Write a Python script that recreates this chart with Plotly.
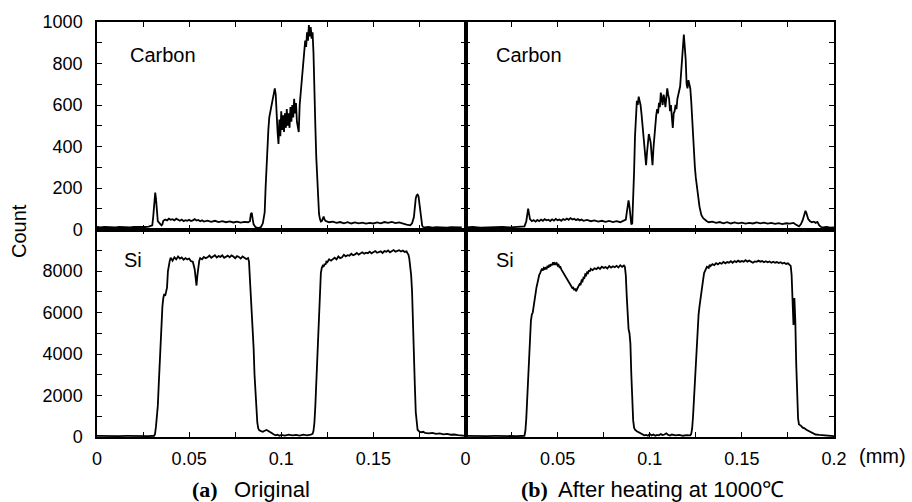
import plotly.graph_objects as go

# ---------------- data ----------------
carbon_a_x = [0.000, 0.002, 0.004, 0.006, 0.008, 0.010, 0.012, 0.014, 0.016, 0.018, 0.020, 0.022, 0.024, 0.026, 0.028,
              0.030, 0.0305, 0.031, 0.0316, 0.032, 0.0325, 0.033, 0.034, 0.035, 0.0355, 0.036, 0.037, 0.038, 0.039,
              0.040, 0.041, 0.042, 0.043, 0.044, 0.045, 0.046, 0.047, 0.048, 0.049, 0.050, 0.051, 0.052, 0.053, 0.054,
              0.055, 0.056, 0.057, 0.058, 0.060, 0.062, 0.064, 0.066, 0.068, 0.070, 0.072, 0.074, 0.076, 0.078, 0.080,
              0.082, 0.083, 0.0835, 0.084, 0.0845, 0.085, 0.086, 0.087, 0.088, 0.089, 0.090, 0.0905, 0.091, 0.0915,
              0.092, 0.0925, 0.093, 0.0935, 0.094, 0.0945, 0.095, 0.0955, 0.096, 0.0965, 0.097, 0.0975, 0.098, 0.0985,
              0.099, 0.0995, 0.100, 0.1005, 0.101, 0.1015, 0.102, 0.1025, 0.103, 0.1035, 0.104, 0.1045, 0.105, 0.1055,
              0.106, 0.1065, 0.107, 0.1075, 0.108, 0.1085, 0.109, 0.1095, 0.110, 0.1105, 0.111, 0.1115, 0.112, 0.1125,
              0.113, 0.1135, 0.114, 0.1145, 0.115, 0.1155, 0.116, 0.1165, 0.117, 0.1175, 0.118, 0.1185, 0.119, 0.1195,
              0.120, 0.1205, 0.121, 0.1215, 0.122, 0.1225, 0.123, 0.1235, 0.124, 0.125, 0.126, 0.128, 0.130, 0.132,
              0.134, 0.136, 0.138, 0.140, 0.142, 0.144, 0.146, 0.148, 0.150, 0.152, 0.154, 0.156, 0.158, 0.160, 0.162,
              0.164, 0.166, 0.168, 0.170, 0.171, 0.172, 0.1725, 0.173, 0.1735, 0.174, 0.1745, 0.175, 0.1755, 0.176,
              0.1765, 0.177, 0.178, 0.180, 0.182, 0.184, 0.186, 0.188, 0.190, 0.192, 0.194, 0.196, 0.198, 0.200]
carbon_a_y = [12, 10, 13, 11, 12, 10, 12, 11, 13, 10, 12, 11, 13, 12, 14,
              20, 60, 140, 178, 150, 80, 40, 30, 20, 25, 42, 48, 44, 52,
              47, 50, 44, 52, 46, 42, 48, 40, 45, 42, 47, 41, 44, 50, 43,
              46, 40, 44, 38, 43, 37, 42, 36, 40, 35, 39, 34, 38, 33, 37,
              35, 40, 75, 80, 50, 25, 12, 8, 8, 12, 30, 60, 82, 200,
              320, 404, 480, 540, 565, 590, 600, 640, 665, 680, 650, 540, 470, 412,
              530, 450, 570, 480, 550, 470, 560, 490, 580, 500, 560, 490, 590, 520,
              600, 540, 630, 560, 610, 520, 480, 470, 600, 650, 700, 760, 800, 860,
              910, 880, 950, 910, 985, 930, 975, 920, 950, 850, 720, 500, 350, 240,
              130, 75, 50, 38, 40, 55, 62, 48, 42, 38, 35, 38, 32, 36,
              30, 35, 29, 34, 30, 33, 28, 32, 29, 34, 30, 36, 32, 37,
              31, 34, 28, 24, 20, 30, 60, 110, 150, 165, 168, 160, 120, 70,
              35, 18, 12, 10, 12, 9, 11, 10, 12, 9, 11, 10, 12, 10]

carbon_b_x = [0.000, 0.004, 0.008, 0.012, 0.016, 0.020, 0.024, 0.028, 0.031, 0.032, 0.033, 0.0335, 0.034, 0.0345,
              0.035, 0.036, 0.037, 0.038, 0.039, 0.040, 0.041, 0.042, 0.043, 0.044, 0.045, 0.046, 0.047, 0.048, 0.049,
              0.050, 0.051, 0.052, 0.053, 0.054, 0.055, 0.056, 0.057, 0.058, 0.059, 0.060, 0.061, 0.062, 0.063, 0.064,
              0.066, 0.068, 0.070, 0.072, 0.074, 0.076, 0.078, 0.080, 0.082, 0.084, 0.086, 0.087, 0.0875, 0.088,
              0.0885, 0.089, 0.0895, 0.090, 0.0905, 0.091, 0.0915, 0.092, 0.0925, 0.093, 0.0935, 0.094, 0.0945, 0.095,
              0.0955, 0.096, 0.0965, 0.097, 0.0975, 0.098, 0.0985, 0.099, 0.0995, 0.100, 0.1005, 0.101, 0.1015, 0.102,
              0.1025, 0.103, 0.1035, 0.104, 0.1045, 0.105, 0.1055, 0.106, 0.1065, 0.107, 0.1075, 0.108, 0.1085, 0.109,
              0.1095, 0.110, 0.1105, 0.111, 0.1115, 0.112, 0.1125, 0.113, 0.1135, 0.114, 0.1145, 0.115, 0.1155, 0.116,
              0.1165, 0.117, 0.1175, 0.118, 0.1185, 0.119, 0.1195, 0.120, 0.1205, 0.121, 0.1215, 0.122, 0.1225, 0.123,
              0.1235, 0.124, 0.1245, 0.125, 0.1255, 0.126, 0.1265, 0.127, 0.1275, 0.128, 0.129, 0.130, 0.131, 0.132,
              0.134, 0.136, 0.138, 0.140, 0.142, 0.144, 0.146, 0.148, 0.150, 0.152, 0.154, 0.156, 0.158, 0.160, 0.162,
              0.164, 0.166, 0.168, 0.170, 0.172, 0.174, 0.176, 0.178, 0.179, 0.180, 0.181, 0.182, 0.183, 0.184, 0.1845,
              0.185, 0.1855, 0.186, 0.187, 0.188, 0.189, 0.190, 0.191, 0.192, 0.193, 0.194, 0.196, 0.198, 0.200]
carbon_b_y = [10, 12, 9, 11, 10, 12, 10, 11, 12, 15, 40, 80, 100, 75,
              50, 40, 45, 38, 46, 40, 48, 42, 50, 44, 47, 41, 49, 43, 51,
              45, 48, 42, 50, 46, 53, 47, 55, 48, 52, 45, 50, 44, 48, 42,
              46, 40, 44, 38, 42, 37, 41, 36, 40, 35, 42, 48, 80, 125,
              140, 110, 60, 25, 30, 130, 280, 450, 570, 620, 600, 640, 620, 600,
              560, 510, 460, 410, 350, 310, 370, 410, 460, 440, 420, 360, 310, 390,
              450, 520, 550, 580, 560, 610, 590, 660, 620, 600, 650, 630, 590, 640,
              680, 650, 630, 570, 600, 540, 490, 560, 570, 600, 580, 630, 660, 670,
              690, 750, 810, 880, 940, 880, 820, 700, 680, 720, 700, 680, 620, 530,
              440, 360, 300, 250, 210, 170, 140, 110, 90, 70, 55, 45, 40, 35,
              38, 32, 36, 30, 35, 29, 34, 30, 33, 28, 32, 29, 34, 30, 33,
              28, 32, 27, 31, 26, 30, 28, 32, 25, 18, 15, 25, 45, 75, 90,
              80, 65, 50, 40, 35, 38, 32, 36, 20, 12, 10, 12, 9, 10]

si_a_x = [0.000, 0.004, 0.008, 0.012, 0.016, 0.020, 0.024, 0.028, 0.031, 0.0315, 0.032, 0.0325, 0.033, 0.0335,
          0.034, 0.0345, 0.035, 0.0355, 0.036, 0.0365, 0.037, 0.0375, 0.038, 0.0385, 0.039, 0.0395, 0.040, 0.041,
          0.042, 0.043, 0.044, 0.045, 0.046, 0.047, 0.048, 0.049, 0.050, 0.051, 0.052, 0.0525, 0.053, 0.0535, 0.054,
          0.0545, 0.055, 0.0555, 0.056, 0.057, 0.058, 0.059, 0.060, 0.061, 0.062, 0.063, 0.064, 0.065, 0.066, 0.067,
          0.068, 0.069, 0.070, 0.071, 0.072, 0.073, 0.074, 0.075, 0.076, 0.077, 0.078, 0.079, 0.080, 0.081, 0.082,
          0.0825, 0.083, 0.0835, 0.084, 0.0845, 0.085, 0.0855, 0.086, 0.0865, 0.087, 0.0875, 0.088, 0.089, 0.090,
          0.091, 0.092, 0.093, 0.094, 0.095, 0.096, 0.097, 0.098, 0.099, 0.100, 0.102, 0.104, 0.106, 0.108, 0.110,
          0.112, 0.114, 0.116, 0.117, 0.1175, 0.118, 0.1185, 0.119, 0.1195, 0.120, 0.1205, 0.121, 0.1215, 0.122,
          0.1225, 0.123, 0.1235, 0.124, 0.1245, 0.125, 0.126, 0.127, 0.128, 0.129, 0.130, 0.131, 0.132, 0.133,
          0.134, 0.135, 0.136, 0.137, 0.138, 0.139, 0.140, 0.141, 0.142, 0.143, 0.144, 0.145, 0.146, 0.147, 0.148,
          0.149, 0.150, 0.151, 0.152, 0.153, 0.154, 0.155, 0.156, 0.157, 0.158, 0.159, 0.160, 0.161, 0.162, 0.163,
          0.164, 0.165, 0.166, 0.167, 0.168, 0.1685, 0.169, 0.1695, 0.170, 0.1705, 0.171, 0.1715, 0.172, 0.1725,
          0.173, 0.1735, 0.174, 0.175, 0.176, 0.177, 0.178, 0.180, 0.182, 0.184, 0.186, 0.188, 0.190, 0.192, 0.194,
          0.196, 0.198, 0.200]
si_a_y = [50, 40, 55, 45, 50, 40, 55, 45, 60, 150, 500, 1000, 1500, 2500,
          3600, 4700, 5700, 6300, 6700, 6900, 6800, 7000, 7200, 8000, 8400, 8500, 8640, 8500,
          8660, 8560, 8700, 8600, 8650, 8540, 8620, 8560, 8600, 8470, 8450, 8300, 8100, 7700, 7300,
          7800, 8350, 8500, 8620, 8560, 8680, 8620, 8660, 8740, 8640, 8700, 8760, 8650, 8720, 8680,
          8760, 8640, 8700, 8740, 8660, 8750, 8700, 8620, 8720, 8680, 8600, 8700, 8640, 8580, 8620,
          8450, 7600, 6900, 6000, 5200, 4300, 3000, 2000, 1200, 700, 420, 330, 280, 250,
          300, 340, 290, 250, 180, 120, 80, 110, 60, 100, 70, 110, 80, 100, 70,
          110, 80, 120, 150, 300, 700, 1500, 2600, 3600, 5000, 6400, 7300, 7900, 8150,
          8250, 8200, 8350, 8300, 8450, 8420, 8560, 8500, 8580, 8640, 8560, 8700, 8620, 8660,
          8780, 8700, 8760, 8740, 8830, 8760, 8800, 8870, 8790, 8840, 8900, 8830, 8880, 8860, 8930,
          8850, 8900, 8960, 8880, 8920, 8950, 8870, 8960, 8930, 8990, 8900, 8950, 9010, 8930, 8970,
          9000, 8940, 8990, 8920, 8950, 8850, 8800, 8600, 8300, 7800, 7000, 5800, 4200, 2500,
          1200, 600, 350, 260, 230, 250, 200, 180, 200, 150, 170, 130, 150, 110, 120,
          90, 60, 50]

si_b_x = [0.000, 0.004, 0.008, 0.012, 0.016, 0.020, 0.024, 0.028, 0.032, 0.0325, 0.033, 0.0335, 0.034, 0.0345,
          0.035, 0.0355, 0.036, 0.0365, 0.037, 0.0375, 0.038, 0.0385, 0.039, 0.0395, 0.040, 0.0405, 0.041, 0.0415,
          0.042, 0.0425, 0.043, 0.0435, 0.044, 0.0445, 0.045, 0.0455, 0.046, 0.0465, 0.047, 0.0475, 0.048, 0.0485,
          0.049, 0.0495, 0.050, 0.0505, 0.051, 0.0515, 0.052, 0.0525, 0.053, 0.0535, 0.054, 0.0545, 0.055, 0.0555,
          0.056, 0.0565, 0.057, 0.0575, 0.058, 0.0585, 0.059, 0.0595, 0.060, 0.0605, 0.061, 0.0615, 0.062, 0.0625,
          0.063, 0.0635, 0.064, 0.0645, 0.065, 0.0655, 0.066, 0.0665, 0.067, 0.0675, 0.068, 0.069, 0.070, 0.071,
          0.072, 0.073, 0.074, 0.075, 0.076, 0.077, 0.078, 0.079, 0.080, 0.081, 0.082, 0.083, 0.084, 0.085, 0.086,
          0.0865, 0.087, 0.0875, 0.088, 0.0885, 0.089, 0.0895, 0.090, 0.0905, 0.091, 0.0915, 0.092, 0.093, 0.094,
          0.095, 0.096, 0.097, 0.098, 0.099, 0.100, 0.101, 0.102, 0.103, 0.104, 0.105, 0.106, 0.107, 0.108, 0.109,
          0.110, 0.111, 0.112, 0.114, 0.116, 0.118, 0.120, 0.122, 0.1225, 0.123, 0.1235, 0.124, 0.1245, 0.125,
          0.1255, 0.126, 0.1265, 0.127, 0.1275, 0.128, 0.1285, 0.129, 0.1295, 0.130, 0.1305, 0.131, 0.132, 0.1325,
          0.133, 0.134, 0.135, 0.136, 0.137, 0.138, 0.139, 0.140, 0.141, 0.142, 0.143, 0.144, 0.145, 0.146, 0.147,
          0.148, 0.149, 0.150, 0.151, 0.152, 0.153, 0.154, 0.155, 0.156, 0.157, 0.158, 0.159, 0.160, 0.161, 0.162,
          0.163, 0.164, 0.165, 0.166, 0.167, 0.168, 0.169, 0.170, 0.171, 0.172, 0.173, 0.174, 0.175, 0.176, 0.1765,
          0.177, 0.1775, 0.178, 0.1785, 0.179, 0.1795, 0.180, 0.1805, 0.181, 0.182, 0.183, 0.184, 0.185, 0.186,
          0.188, 0.190, 0.192, 0.194, 0.196, 0.198, 0.200]
si_b_y = [50, 40, 55, 45, 50, 40, 55, 45, 60, 300, 900, 1900, 3000, 4100,
          5000, 5600, 5900, 6000, 6300, 6700, 7000, 7200, 7400, 7650, 7800, 7900, 8000, 8120,
          8020, 8150, 8100, 8180, 8080, 8260, 8160, 8300, 8220, 8340, 8280, 8420, 8300, 8380,
          8330, 8380, 8260, 8300, 8180, 8200, 8080, 8000, 7930, 7850, 7780, 7700, 7620, 7560,
          7480, 7400, 7320, 7260, 7180, 7200, 7080, 7150, 7020, 7120, 7200, 7260, 7380, 7360,
          7540, 7500, 7680, 7660, 7840, 7800, 7930, 7900, 8040, 7980, 8100, 8040, 8130, 8090,
          8170, 8100, 8210, 8150, 8190, 8120, 8240, 8160, 8230, 8180, 8250, 8170, 8280, 8200, 8260,
          8200, 7800, 6800, 5500, 5200, 5000, 4500, 3000, 1800, 800, 450, 350, 280, 230,
          180, 120, 80, 100, 60, 150, 80, 120, 60, 100, 80, 140, 90, 120, 180,
          100, 70, 120, 80, 100, 60, 90, 80, 150, 400, 1000, 1900, 2700, 3500,
          4600, 5400, 5900, 6300, 6700, 7000, 7300, 7600, 7900, 8050, 8100, 8200, 8150, 8300,
          8240, 8330, 8280, 8380, 8320, 8390, 8350, 8440, 8370, 8430, 8400, 8470, 8400, 8480, 8430,
          8500, 8440, 8480, 8450, 8520, 8450, 8500, 8440, 8400, 8460, 8440, 8500, 8450, 8480, 8420,
          8470, 8420, 8460, 8400, 8450, 8400, 8430, 8380, 8420, 8360, 8400, 8340, 8370, 8310, 8250,
          7800, 6800, 5400, 6700, 5600, 3500, 1500, 900, 600, 550, 450, 420, 350, 300,
          180, 120, 100, 80, 50, 60, 40]

x_tick_vals = [0, 0.025, 0.05, 0.075, 0.1, 0.125, 0.15, 0.175, 0.2]
x_tick_text_left = ["0", "", "0.05", "", "0.1", "", "0.15", "", ""]
x_tick_text_right = ["0", "", "0.05", "", "0.1", "", "0.15", "", "0.2"]
c_tick_vals = [0, 100, 200, 300, 400, 500, 600, 700, 800, 900, 1000]
c_tick_text = ["0", "", "200", "", "400", "", "600", "", "800", "", "1000"]
s_tick_vals = [0, 1000, 2000, 3000, 4000, 5000, 6000, 7000, 8000, 9000, 10000]
s_tick_text = ["0", "", "2000", "", "4000", "", "6000", "", "8000", "", ""]

# ---------------- figure ----------------
SANS = "Liberation Sans, Arial, Helvetica, sans-serif"
line = dict(color="black", width=1.8)

fig = go.Figure()
fig.add_trace(go.Scatter(x=carbon_a_x, y=carbon_a_y, mode="lines", line=line, xaxis="x", yaxis="y"))
fig.add_trace(go.Scatter(x=carbon_b_x, y=carbon_b_y, mode="lines", line=line, xaxis="x2", yaxis="y2"))
fig.add_trace(go.Scatter(x=si_a_x, y=si_a_y, mode="lines", line=line, xaxis="x3", yaxis="y3"))
fig.add_trace(go.Scatter(x=si_b_x, y=si_b_y, mode="lines", line=line, xaxis="x4", yaxis="y4"))

common = dict(showline=True, linecolor="black", linewidth=1.5, mirror="allticks", ticks="inside",
              ticklen=5, tickwidth=1.2, tickcolor="black", showgrid=False, zeroline=False,
              tickfont=dict(family=SANS, size=18, color="black"))


def xax(domain, anchor, text, show):
    return dict(common, domain=domain, anchor=anchor, range=[0, 0.2], tickmode="array",
                tickvals=x_tick_vals, ticktext=text, showticklabels=show, ticklabelstandoff=5)


def yax(domain, anchor, vals, text, rng, show):
    return dict(common, domain=domain, anchor=anchor, range=rng, tickmode="array",
                tickvals=vals, ticktext=text, showticklabels=show, ticklabelstandoff=9)


fig.update_layout(
    width=912, height=502,
    margin=dict(l=97, r=78, t=20, b=65),
    paper_bgcolor="white", plot_bgcolor="white",
    showlegend=False,
    xaxis=xax([0, 0.5], "y", x_tick_text_left, False),
    yaxis=yax([0.5, 1], "x", c_tick_vals, c_tick_text, [0, 1000], True),
    xaxis2=xax([0.5, 1], "y2", x_tick_text_right, False),
    yaxis2=yax([0.5, 1], "x2", c_tick_vals, c_tick_text, [0, 1000], False),
    xaxis3=xax([0, 0.5], "y3", x_tick_text_left, True),
    yaxis3=yax([0, 0.5], "x3", s_tick_vals, s_tick_text, [0, 10000], True),
    xaxis4=xax([0.5, 1], "y4", x_tick_text_right, True),
    yaxis4=yax([0, 0.5], "x4", s_tick_vals, s_tick_text, [0, 10000], False),
)

lab = dict(family=SANS, size=20, color="black")
ann = [
    dict(text="Carbon", x=0.0168, y=840, xref="x", yref="y", xanchor="left", yanchor="middle", showarrow=False, font=lab),
    dict(text="Carbon", x=0.0152, y=840, xref="x2", yref="y2", xanchor="left", yanchor="middle", showarrow=False, font=lab),
    dict(text="Si", x=0.0136, y=8520, xref="x3", yref="y3", xanchor="left", yanchor="middle", showarrow=False, font=lab),
    dict(text="Si", x=0.0152, y=8520, xref="x4", yref="y4", xanchor="left", yanchor="middle", showarrow=False, font=lab),
    dict(text="Count", x=(19 - 97) / 737, y=(437 - 230) / 417, xref="paper", yref="paper", textangle=-90,
         xanchor="center", yanchor="middle", showarrow=False, font=lab),
    dict(text="(mm)", x=(857 - 97) / 737, y=(437 - 456) / 417, xref="paper", yref="paper",
         xanchor="left", yanchor="middle", showarrow=False, font=lab),
    dict(text="<b>(a)</b>", x=(190 - 97) / 737, y=(437 - 490) / 417, xref="paper", yref="paper",
         xanchor="left", yanchor="middle", showarrow=False,
         font=dict(family="Liberation Serif, Times New Roman, serif", size=22, color="black")),
    dict(text="Original", x=(232 - 97) / 737, y=(437 - 490) / 417, xref="paper", yref="paper",
         xanchor="left", yanchor="middle", showarrow=False, font=dict(family=SANS, size=22, color="black")),
    dict(text="<b>(b)</b>", x=(519 - 97) / 737, y=(437 - 490) / 417, xref="paper", yref="paper",
         xanchor="left", yanchor="middle", showarrow=False,
         font=dict(family="Liberation Serif, Times New Roman, serif", size=22, color="black")),
    dict(text="After heating at 1000\u2103", x=(556 - 97) / 737, y=(437 - 490) / 417, xref="paper", yref="paper",
         xanchor="left", yanchor="middle", showarrow=False, font=dict(family=SANS, size=22, color="black")),
]
fig.update_layout(annotations=ann)

fig.write_html("out.html")
